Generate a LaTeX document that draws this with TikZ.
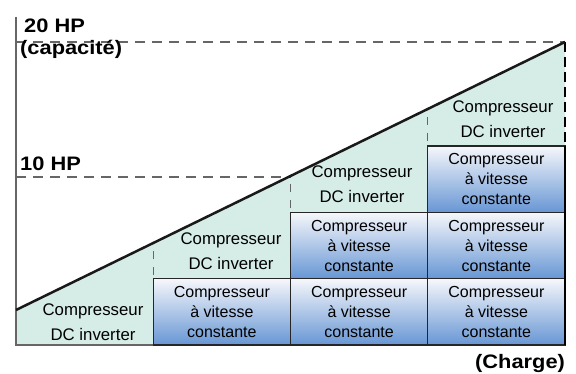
\documentclass[tikz,border=0pt]{standalone}
\usepackage{fontspec}
\newfontfamily\boxfont{Liberation Sans}
\newfontfamily\axisfont{Liberation Sans}[FakeStretch=1.12]
\definecolor{dcteal}{HTML}{D5ECE7}
\definecolor{cvtop}{HTML}{F6F7FB}
\definecolor{cvblue}{HTML}{6796D4}
\definecolor{axisgray}{HTML}{666666}
\tikzset{
  axislbl/.style={font=\axisfont\bfseries\fontsize{19.5}{22}\selectfont, inner sep=0pt, anchor=base west},
  dctxt/.style={font=\boxfont\fontsize{16.8}{25}\selectfont, align=center, inner sep=0pt},
  cvbox/.style={draw=black!85, line width=1.2pt, top color=cvtop, bottom color=cvblue,
    minimum width=137.25pt, minimum height=66.33pt, inner sep=0pt, align=center,
    font=\boxfont\fontsize{16}{20}\selectfont},
  hpline/.style={axisgray, line width=1.3pt, dash pattern=on 10pt off 7pt},
  colsep/.style={black!60, line width=1.2pt, dash pattern=on 8pt off 8pt}
}
\begin{document}
\begin{tikzpicture}[x=1pt, y=-1pt]
  \useasboundingbox (0,0) rectangle (576,374);

  % DC inverter area under the capacity line
  \fill[dcteal] (16,310) -- (565,42) -- (565,345) -- (16,345) -- cycle;

  % Capacity levels
  \draw[hpline] (16,42) -- (565,42);
  \draw[hpline] (16,177) -- (290.5,177);

  % Column separators inside the teal area
  \foreach \xx/\ytop in {153.25/243, 290.5/176, 427.75/109}{
    \draw[colsep] (\xx,\ytop+8) -- (\xx,\ytop+37);
  }

  % Axes
  \draw[axisgray, line width=1.5pt] (16,17) -- (16,345) -- (565,345);

  % Constant speed compressors
  \foreach \c in {1,2,3}{
    \foreach \r in {1,...,\c}{
      \node[cvbox] (cv\c\r) at ({16+137.25*(\c+0.5)}, {345-66.33*(\r-0.5)})
        {Compresseur\\à vitesse\\constante};
    }
  }
  \draw[black, line width=2.4pt] (565,146) -- (565,345);
  \draw[black, line width=2.4pt, dash pattern=on 10pt off 5pt] (565,42) -- (565,146);

  % Load line
  \draw[black!90, line width=2.5pt] (16,310) -- (565,42);

  % DC inverter compressors
  \foreach \c/\xx/\yy in {0/93/322, 1/231/251.6, 2/362/184.6, 3/503/119}{
    \node[dctxt] (dc\c) at (\xx,\yy) {Compresseur\\DC inverter};
  }

  % Axis labels
  \node[axislbl] (hp20) at (24,33) {20 HP};
  \node[axislbl] (capa) at (20,55) {(capacité)};
  \node[axislbl] (hp10) at (20,171) {10 HP};
  \node[axislbl] (load) at (475,368) {(Charge)};
\end{tikzpicture}
\end{document}
